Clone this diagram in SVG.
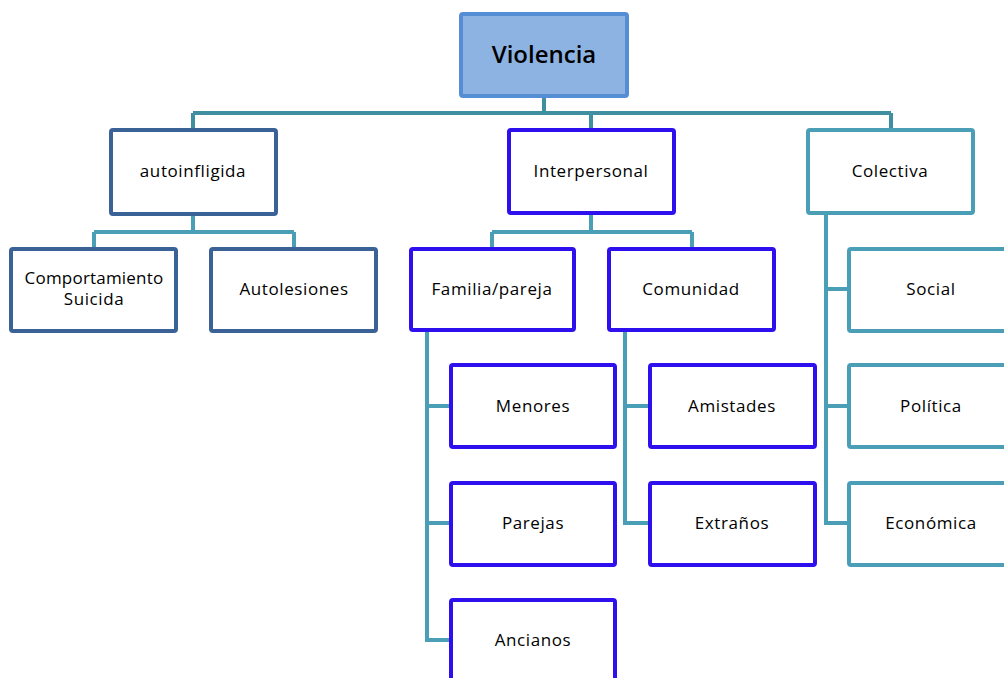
<svg xmlns="http://www.w3.org/2000/svg" width="1004" height="678" viewBox="0 0 1004 678">
<style>
.n rect{stroke-width:4;fill:#fff}
.root rect{fill:#8db3e2;stroke:#558ed5}
.dk rect{stroke:#3b6296}
.bl rect{stroke:#2e10ee}
.tl rect{stroke:#4a9eb6}
text{font-family:"Open Sans","Liberation Sans",sans-serif;font-size:17px;font-weight:500;letter-spacing:0.6px;fill:#000;text-anchor:middle;dominant-baseline:central}
.root text{font-size:24px;font-weight:600;letter-spacing:0}
#conn path{fill:none;stroke:#4a9eb6;stroke-width:4}
#conn .top{stroke:#3f8fa0}
</style>
<g id="conn">
<path class="top" d="M544 97V113M193 113H891M193 113V128M591 113V128M891 113V128"/>
<path d="M193 215V232M94 232H294M94 232V247M294 232V247"/>
<path d="M591 214V232M492 232H692M492 232V247M692 232V247"/>
<path d="M427 331V640H450M427 406H450M427 523H450"/>
<path d="M625 331V523H648M625 406H648"/>
<path d="M826 214V523H848M826 289H848M826 406H848"/>
</g>
<g id="violencia" class="n root"><rect x="461" y="14" width="166" height="82" rx="2"/><text x="544" y="53">Violencia</text></g>
<g id="autoinfligida" class="n dk"><rect x="111" y="130" width="165" height="84" rx="2"/><text x="193" y="170">autoinfligida</text></g>
<g id="comportamiento" class="n dk"><rect x="11" y="249" width="165" height="82" rx="2"/><text x="94" y="277" style="letter-spacing:0.2px">Comportamiento</text><text x="94" y="298">Suicida</text></g>
<g id="autolesiones" class="n dk"><rect x="211" y="249" width="165" height="82" rx="2"/><text x="294" y="288">Autolesiones</text></g>
<g id="interpersonal" class="n bl"><rect x="509" y="130" width="165" height="83" rx="2"/><text x="591" y="170">Interpersonal</text></g>
<g id="familia" class="n bl"><rect x="411" y="249" width="163" height="81" rx="2"/><text x="492" y="288">Familia/pareja</text></g>
<g id="comunidad" class="n bl"><rect x="609" y="249" width="165" height="81" rx="2"/><text x="691" y="288">Comunidad</text></g>
<g id="menores" class="n bl"><rect x="451" y="365" width="164" height="82" rx="2"/><text x="533" y="405">Menores</text></g>
<g id="parejas" class="n bl"><rect x="451" y="483" width="164" height="82" rx="2"/><text x="533" y="522">Parejas</text></g>
<g id="ancianos" class="n bl"><rect x="451" y="600" width="164" height="90" rx="2"/><text x="533" y="639">Ancianos</text></g>
<g id="amistades" class="n bl"><rect x="650" y="365" width="165" height="82" rx="2"/><text x="732" y="405">Amistades</text></g>
<g id="extranos" class="n bl"><rect x="650" y="483" width="165" height="82" rx="2"/><text x="732" y="522">Extraños</text></g>
<g id="colectiva" class="n tl"><rect x="808" y="130" width="165" height="83" rx="2"/><text x="890" y="170">Colectiva</text></g>
<g id="social" class="n tl"><rect x="849" y="249" width="166" height="82" rx="2"/><text x="931" y="288">Social</text></g>
<g id="politica" class="n tl"><rect x="849" y="365" width="166" height="82" rx="2"/><text x="931" y="405">Política</text></g>
<g id="economica" class="n tl"><rect x="849" y="483" width="166" height="82" rx="2"/><text x="931" y="522">Económica</text></g>
</svg>
